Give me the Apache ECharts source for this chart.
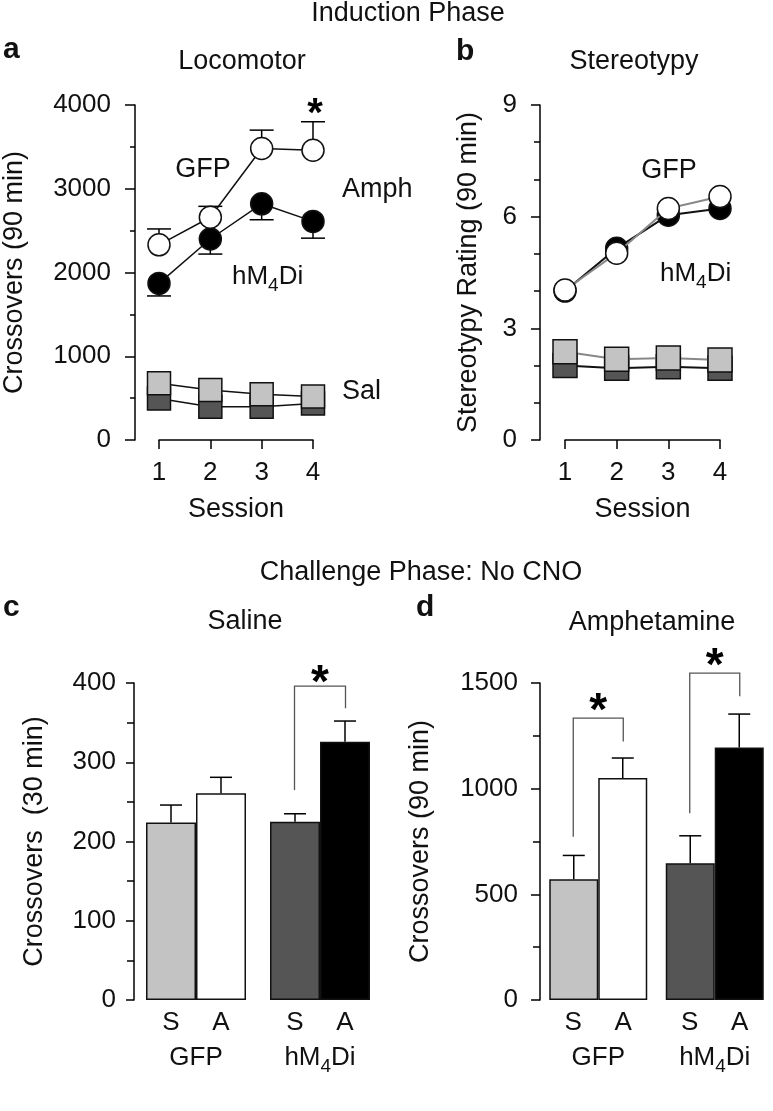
<!DOCTYPE html>
<html><head><meta charset="utf-8">
<script src="https://cdn.jsdelivr.net/npm/echarts@6/dist/echarts.min.js"></script>
<style>html,body{margin:0;padding:0;background:#fff}#c{width:773px;height:1111px}</style>
</head><body><div id="c"></div>
<script>
// ---------- data ----------
const sessions = [1, 2, 3, 4];
// Panel a: Locomotor crossovers (90 min)
const locoGfpAmph = [2330, 2660, 3480, 3460];
const locoGfpAmphSem = [190, 130, 220, 340];
const locoHm4diAmph = [1870, 2400, 2820, 2610];
const locoHm4diAmphSem = [150, 180, 190, 200];
const locoGfpSal = [678, 598, 547, 519];
const locoHm4diSal = [495, 396, 396, 436];
const locoSigSessions = [4];
// Panel b: Stereotypy rating (90 min)
const stereoGfpAmph = [4.03, 5.02, 6.22, 6.54];
const stereoHm4diAmph = [4.0, 5.15, 6.04, 6.22];
const stereoGfpSal = [2.37, 2.17, 2.2, 2.15];
const stereoHm4diSal = [2.0, 1.93, 1.97, 1.93];
// Panels c, d
const groups = ['GFP', 'hM4Di'];
const salineS = [224, 225];
const salineSSem = [22, 10];
const salineA = [261, 326];
const salineASem = [20, 26];
const amphS = [571, 647];
const amphSSem = [113, 130];
const amphA = [1050, 1195];
const amphASem = [95, 158];
// brackets: [group, left end, top, right end]
const salineBrackets = [[1, 265, 396, 368]];
const amphBrackets = [[0, 773, 1334, 1223], [1, 884, 1547, 1437]];
// axis ranges
const locoMax = 4000, locoStep = 1000;
const stereoMax = 9, stereoStep = 3;
const salMax = 400, salStep = 100;
const amphMax = 1500, amphStep = 500;

// ---------- styles ----------
const FONT = "'Liberation Sans', Arial, sans-serif";
const INK = '#111';
const LIGHT = '#c3c3c3', DARK = '#555555';
const sColors = [LIGHT, DARK];
const aColors = ['#ffffff', '#000000'];

const zip = (xs, ys) => xs.map((x, i) => [x, ys[i]]);
const zip3 = (xs, ys, es) => xs.map((x, i) => [x, ys[i], es[i]]);

function errRender(dir, offset, cap) {
  return function (params, api) {
    const x = api.value(0), m = api.value(1), e = api.value(2);
    const a = api.coord([x, m]);
    const b = api.coord([x, m + dir * e]);
    const cx = a[0] + offset;
    return { type: 'group', children: [
      { type: 'line', shape: { x1: cx, y1: a[1], x2: cx, y2: b[1] }, style: { stroke: '#000', lineWidth: 1.5 } },
      { type: 'line', shape: { x1: cx - cap / 2, y1: b[1], x2: cx + cap / 2, y2: b[1] }, style: { stroke: '#000', lineWidth: 1.5 } }
    ] };
  };
}
function star(x, y, size) {
  return { type: 'text', x: x, y: y + 0.23 * size, style: { text: '*', fontSize: size, fontWeight: 'bold', fontFamily: FONT, fill: '#000', align: 'center', verticalAlign: 'middle' } };
}
function bracketRender(half, gap, size) {
  return function (params, api) {
    const g = api.value(0);
    const l = api.coord([g, api.value(1)]);
    const t = api.coord([g, api.value(2)]);
    const r = api.coord([g, api.value(3)]);
    const cx = l[0];
    return { type: 'group', children: [
      { type: 'polyline', shape: { points: [[cx - half, l[1]], [cx - half, t[1]], [cx + half, t[1]], [cx + half, r[1]]] },
        style: { stroke: '#555', lineWidth: 1.3, fill: null } },
      star(cx, t[1] - gap, size)
    ] };
  };
}

const tickFont = { fontSize: 26, fontFamily: FONT, color: INK, formatter: v => String(v) };
function yAxisVis(grid, max, step, minorSplit, name, gap, margin, tickLen, minorLen) {
  return {
    gridIndex: grid, type: 'value', min: 0, max: max, interval: step,
    axisLine: { show: true, lineStyle: { color: '#000', width: 1.5 } },
    axisTick: { show: true, length: tickLen, lineStyle: { color: '#000', width: 1.5 } },
    minorTick: { show: true, splitNumber: minorSplit, length: minorLen, lineStyle: { color: '#000', width: 1.5 } },
    splitLine: { show: false },
    axisLabel: Object.assign({ margin: margin }, tickFont),
    name: name, nameLocation: 'middle', nameGap: gap,
    nameTextStyle: { fontSize: 27, fontFamily: FONT, color: INK }
  };
}
function sessionAxis(grid) {
  return {
    gridIndex: grid, type: 'value', min: 1, max: 4, interval: 1,
    axisLine: { show: true, lineStyle: { color: '#000', width: 1.5 } },
    axisTick: { show: true, length: 9, lineStyle: { color: '#000', width: 1.5 } },
    splitLine: { show: false },
    axisLabel: Object.assign({ margin: 20 }, tickFont),
    name: 'Session', nameLocation: 'middle', nameGap: 56,
    nameTextStyle: { fontSize: 27, fontFamily: FONT, color: INK }
  };
}
const catRich = {
  l: { width: 50, align: 'center', fontSize: 26, fontFamily: FONT, color: INK, lineHeight: 32 },
  n: { fontSize: 26, fontFamily: FONT, color: INK, lineHeight: 37 },
  s: { fontSize: 19, fontFamily: FONT, color: INK, lineHeight: 19, padding: [18, 0, 0, 0] }
};
function catAxis(grid) {
  return {
    gridIndex: grid, type: 'category', data: groups,
    axisLine: { show: false }, axisTick: { show: false }, splitLine: { show: false },
    axisLabel: {
      interval: 0, margin: 7, rich: catRich,
      formatter: v => '{l|S}{l|A}\n' + (v === 'hM4Di' ? '{n|hM}{s|4}{n|Di}' : '{n|' + v + '}')
    }
  };
}
function lineSeries(xi, data, symbol, size, fill, lineColor, lineW, z) {
  return {
    type: 'line', xAxisIndex: xi, yAxisIndex: xi, data: data, symbol: symbol, symbolSize: size,
    showSymbol: true, z: z, animation: false, silent: true,
    lineStyle: { color: lineColor, width: lineW },
    itemStyle: { color: fill, borderColor: '#111', borderWidth: 1.5, opacity: 1 }
  };
}
function barSeries(xi, vals, colors, bw) {
  return {
    type: 'bar', xAxisIndex: xi, yAxisIndex: xi, barWidth: bw, barGap: '0%', z: 2, animation: false,
    data: vals.map((v, i) => ({ value: v, itemStyle: { color: colors[i] } })),
    itemStyle: { borderColor: '#111', borderWidth: 1.5 }
  };
}
function richText(x, y, text, align, size, weight) {
  return { type: 'text', x: x, y: y, style: {
    text: text, align: align || 'center', verticalAlign: 'middle', fill: INK,
    fontSize: size || 27, fontFamily: FONT, fontWeight: weight || 'normal',
    rich: { n: { fontSize: 26, fontFamily: FONT, fill: INK }, s: { fontSize: 19, fontFamily: FONT, fill: INK, padding: [18, 0, 0, 0] } }
  } };
}

const option = {
  animation: false,
  backgroundColor: '#fff',
  grid: [
    { left: 135, top: 105, width: 20, height: 335 },
    { left: 159, top: 105, width: 154, height: 335 },
    { left: 540, top: 105, width: 20, height: 335 },
    { left: 565, top: 105, width: 155, height: 335 },
    { left: 134, top: 683, width: 248, height: 317 },
    { left: 540, top: 683, width: 243, height: 317 }
  ],
  xAxis: [
    { gridIndex: 0, type: 'value', show: false },
    sessionAxis(1),
    { gridIndex: 2, type: 'value', show: false },
    sessionAxis(3),
    catAxis(4),
    catAxis(5)
  ],
  yAxis: [
    yAxisVis(0, locoMax, locoStep, 2, 'Crossovers (90 min)', 107, 24, 10, 5),
    { gridIndex: 1, type: 'value', min: 0, max: locoMax, show: false },
    yAxisVis(2, stereoMax, stereoStep, 3, 'Stereotypy Rating (90 min)', 58, 23, 9, 6),
    { gridIndex: 3, type: 'value', min: 0, max: stereoMax, show: false },
    yAxisVis(4, salMax, salStep, 2, 'Crossovers  (30 min)', 86, 18, 8, 7),
    yAxisVis(5, amphMax, amphStep, 2, 'Crossovers (90 min)', 106, 22, 9, 7)
  ],
  series: [
    // panel a
    { type: 'custom', xAxisIndex: 1, yAxisIndex: 1, z: 1, clip: false, renderItem: errRender(-1, 0, 24), data: zip3(sessions, locoHm4diAmph, locoHm4diAmphSem) },
    { type: 'custom', xAxisIndex: 1, yAxisIndex: 1, z: 1, clip: false, renderItem: errRender(1, 0, 24), data: zip3(sessions, locoGfpAmph, locoGfpAmphSem) },
    lineSeries(1, zip(sessions, locoHm4diSal), 'rect', 23, DARK, '#111', 1.5, 3),
    lineSeries(1, zip(sessions, locoGfpSal), 'rect', 23, LIGHT, '#111', 1.5, 4),
    lineSeries(1, zip(sessions, locoHm4diAmph), 'circle', 22, '#000', '#111', 1.5, 5),
    lineSeries(1, zip(sessions, locoGfpAmph), 'circle', 22, '#fff', '#111', 1.5, 6),
    { type: 'custom', xAxisIndex: 1, yAxisIndex: 1, z: 7, clip: false,
      renderItem: function (params, api) {
        const i = sessions.indexOf(api.value(0));
        const p = api.coord([api.value(0), locoGfpAmph[i] + locoGfpAmphSem[i]]);
        return star(p[0] + 2, p[1] - 16, 40);
      },
      data: locoSigSessions.map(s => [s]) },
    // panel b
    lineSeries(3, zip(sessions, stereoHm4diSal), 'rect', 24, DARK, '#111', 2, 3),
    lineSeries(3, zip(sessions, stereoGfpSal), 'rect', 24, LIGHT, '#888', 2, 4),
    lineSeries(3, zip(sessions, stereoHm4diAmph), 'circle', 22, '#000', '#111', 2, 5),
    lineSeries(3, zip(sessions, stereoGfpAmph), 'circle', 22, '#fff', '#888', 2, 6),
    // panel c
    barSeries(4, salineS, sColors, 50),
    barSeries(4, salineA, aColors, 50),
    { type: 'custom', xAxisIndex: 4, yAxisIndex: 4, z: 3, clip: false, renderItem: errRender(1, -25, 22), data: zip3([0, 1], salineS, salineSSem) },
    { type: 'custom', xAxisIndex: 4, yAxisIndex: 4, z: 3, clip: false, renderItem: errRender(1, 25, 22), data: zip3([0, 1], salineA, salineASem) },
    { type: 'custom', xAxisIndex: 4, yAxisIndex: 4, z: 3, clip: false, renderItem: bracketRender(25.5, 12, 46), data: salineBrackets },
    // panel d
    barSeries(5, amphS, sColors, 49),
    barSeries(5, amphA, aColors, 49),
    { type: 'custom', xAxisIndex: 5, yAxisIndex: 5, z: 3, clip: false, renderItem: errRender(1, -24.5, 22), data: zip3([0, 1], amphS, amphSSem) },
    { type: 'custom', xAxisIndex: 5, yAxisIndex: 5, z: 3, clip: false, renderItem: errRender(1, 24.5, 22), data: zip3([0, 1], amphA, amphASem) },
    { type: 'custom', xAxisIndex: 5, yAxisIndex: 5, z: 3, clip: false, renderItem: bracketRender(25, 16, 46), data: amphBrackets }
  ],
  graphic: [
    richText(408, 14, 'Induction Phase'),
    richText(3, 50, 'a', 'left', 30, 'bold'),
    richText(242, 62, 'Locomotor'),
    richText(456, 52, 'b', 'left', 30, 'bold'),
    richText(634, 62, 'Stereotypy'),
    richText(203, 170, 'GFP'),
    richText(232, 277, '{n|hM}{s|4}{n|Di}', 'left'),
    richText(342, 190, 'Amph', 'left'),
    richText(342, 392, 'Sal', 'left'),
    richText(669, 171, 'GFP'),
    richText(660, 274, '{n|hM}{s|4}{n|Di}', 'left'),
    richText(421, 573, 'Challenge Phase: No CNO'),
    richText(3, 608, 'c', 'left', 30, 'bold'),
    richText(245, 622, 'Saline'),
    richText(416, 608, 'd', 'left', 30, 'bold'),
    richText(652, 623, 'Amphetamine')
  ]
};
const chart = echarts.init(document.getElementById('c'), null, { renderer: 'canvas' });
chart.setOption(option);
</script>
</body></html>
